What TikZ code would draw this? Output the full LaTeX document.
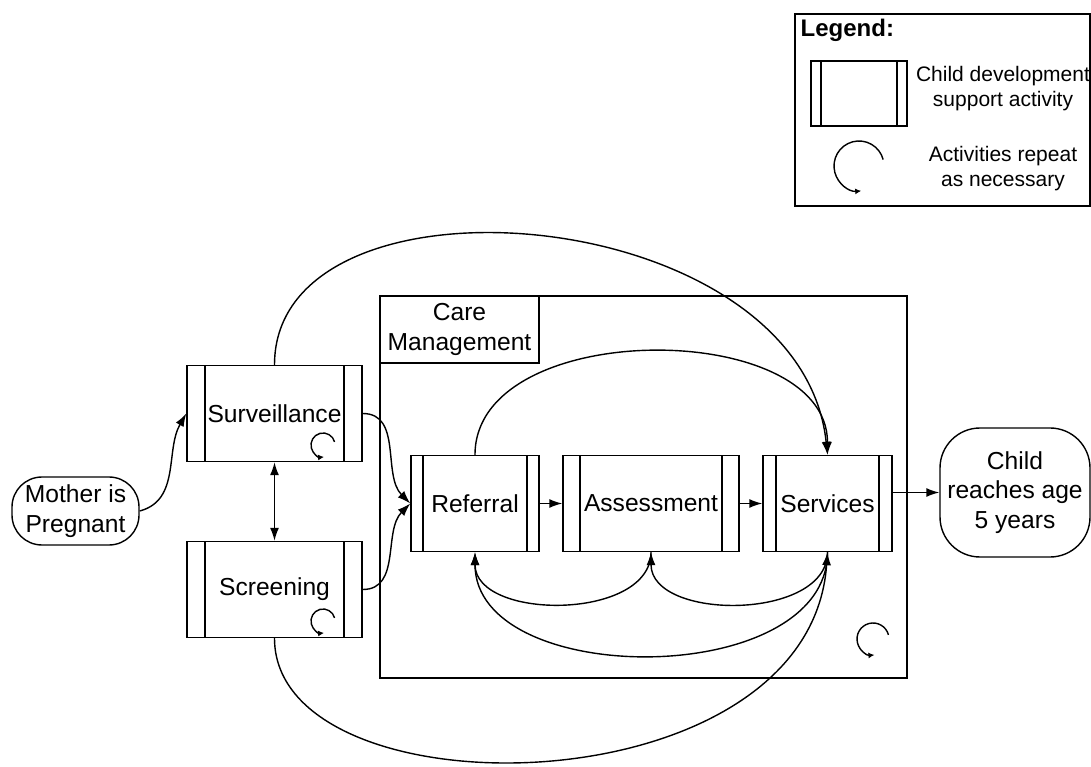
\documentclass[tikz,border=0pt]{standalone}
\usepackage{fontspec}
\setmainfont{Liberation Sans}
\usetikzlibrary{arrows.meta}

\begin{document}
\begin{tikzpicture}[x=1pt, y=1pt, line width=1.4pt,
    font=\fontsize{24.6}{29.5}\selectfont,
    >={Latex[length=13pt,width=9pt]},
    activity/.style={draw, inner sep=0pt, minimum height=96pt, align=center,
      path picture={\draw ([xshift=#1]path picture bounding box.north west) -- ([xshift=#1]path picture bounding box.south west)
        ([xshift=-#1]path picture bounding box.north east) -- ([xshift=-#1]path picture bounding box.south east);}},
    activity/.default=15pt,
    terminal/.style={draw, inner sep=0pt, align=center},
    pics/repeaticon/.style={code={\draw[-{Latex[length=6pt,width=6pt]}] (15:#1) arc[start angle=15, end angle=275, radius=#1];}}
  ]
  \useasboundingbox (0,0) rectangle (1091,766);

  \node[draw, minimum width=295pt, minimum height=192pt] (legend) at (942.5,656) {};
  \node[anchor=west, inner sep=0pt, font=\fontsize{24}{29}\selectfont\bfseries] (legendtitle) at (800,736) {Legend:};
  \node[activity=10pt, minimum width=96pt, minimum height=65pt] (legendbox) at (859,672.5) {};
  \node[align=center, font=\fontsize{21}{25}\selectfont] (legendtext) at (1003,677) {Child development\\support activity};
  \pic at (859,600) {repeaticon=25};
  \node[align=center, font=\fontsize{21}{25}\selectfont] (legendloop) at (1003,597) {Activities repeat\\as necessary};

  \node[draw, minimum width=527pt, minimum height=382pt] (care) at (643.5,279) {};
  \node[draw, anchor=north west, minimum width=159pt, minimum height=67pt, align=center] (carelabel) at (care.north west) {Care\\Management};
  \pic at (873,127) {repeaticon=16};

  \node[terminal, minimum width=127pt, minimum height=68pt, rounded corners=30pt] (mother) at (75.5,255) {Mother is\\Pregnant};
  \node[activity=18pt, minimum width=175pt] (surv) at (274.5,352.5) {Surveillance};
  \node[activity=18pt, minimum width=175pt] (screen) at (274.5,176.5) {Screening};
  \pic at (323,321) {repeaticon=12};
  \pic at (323,145) {repeaticon=12};
  \node[activity=12pt, minimum width=128pt] (ref) at (475,262.5) {Referral};
  \node[activity=17pt, minimum width=176pt] (asm) at (651,262.5) {Assessment};
  \node[activity=13pt, minimum width=129pt] (serv) at (827.5,262.5) {Services};
  \node[terminal, minimum width=150pt, minimum height=129pt, rounded corners=40pt] (child) at (1015,273.5) {Child\\reaches age\\5 years};

  \draw[->] (mother.east) to[out=15, in=240] (surv.west);
  \draw[<->] (surv) -- (screen);
  \draw[->] (surv.east) to[out=0, in=135] (ref.west);
  \draw[->] (screen.east) to[out=0, in=225] (ref.west);
  \draw[->] (ref) -- (asm);
  \draw[->] (asm) -- (serv);
  \draw[->] (serv.east |- child.west) -- (child.west);
  \draw[->] (ref.north) to[out=90, in=90] (serv.north);
  \draw[->] (surv.north) to[out=90, in=96, out looseness=0.94, in looseness=1.17] (serv.north);
  \draw[->] (serv.south) to[out=-90, in=-90] (asm.south);
  \draw[->] (asm.south) to[out=-90, in=-90] (ref.south);
  \draw[->] (serv.south) to[out=-90, in=-90] (ref.south);
  \draw[->] (screen.south) to[out=-90, in=-94, out looseness=0.82, in looseness=1.19] (serv.south);
\end{tikzpicture}
\end{document}
